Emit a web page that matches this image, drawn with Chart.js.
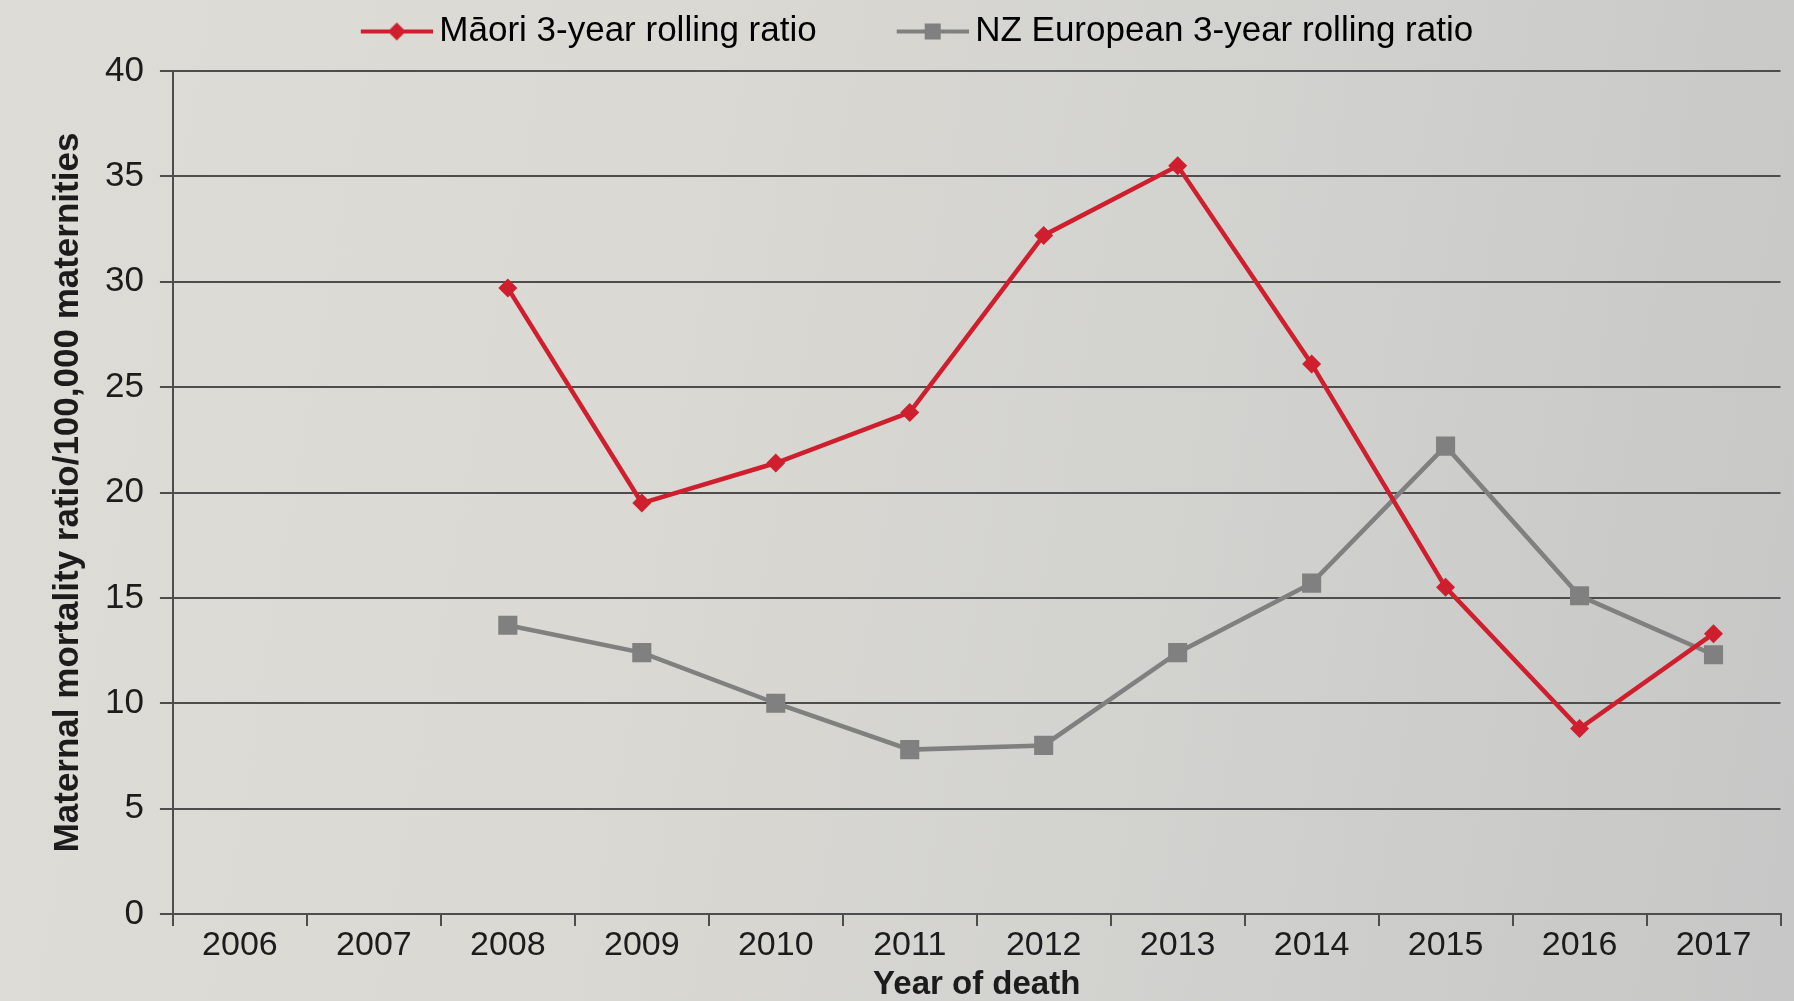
<!DOCTYPE html>
<html>
<head>
<meta charset="utf-8">
<script src="https://cdn.jsdelivr.net/npm/chart.js@4/dist/chart.umd.min.js"></script>
<style>
  html, body { margin: 0; padding: 0; }
  body {
    width: 1794px; height: 1001px; overflow: hidden;
    background: linear-gradient(100deg, #dddcd6 0%, #dad9d3 35%, #d2d2cf 65%, #c6c7c6 100%);
  }
  #wrap { position: relative; width: 1794px; height: 1001px; }
</style>
</head>
<body>
<div id="wrap"><canvas id="grafico"></canvas></div>
<script>
// === Dados ===
const anos = ["2006", "2007", "2008", "2009", "2010", "2011", "2012", "2013", "2014", "2015", "2016", "2017"];
const maori = [null, null, 29.7, 19.5, 21.4, 23.8, 32.2, 35.5, 26.1, 15.5, 8.8, 13.3];
const nzEuropean = [null, null, 13.7, 12.4, 10.0, 7.8, 8.0, 12.4, 15.7, 22.2, 15.1, 12.3];
const yTicks = [0, 5, 10, 15, 20, 25, 30, 35, 40];

const COR_MAORI = "#cf1f2e";
const COR_NZ = "#7f807f";
const COR_TEXTO = "#1c1c1c";
const COR_GRADE = "#4d4d4d";
const FONTE = "'Liberation Sans', Arial, sans-serif";

// === Legenda: largura do ícone e espaçamento ===
const LEG_PAD = 14;
const LEG_W = 141 - LEG_PAD;
const LEG_EXTRA = 12; // espaço extra abaixo da legenda

// Ícone da legenda: linha com marcador, encostada à direita do canvas
function iconeLegenda(cor, forma) {
  const c = document.createElement("canvas");
  c.width = LEG_W + 22;
  c.height = 24;
  const g = c.getContext("2d");
  const x0 = c.width - 72;
  const cx = c.width - 36;
  g.strokeStyle = cor;
  g.lineWidth = 4;
  g.beginPath();
  g.moveTo(x0, 12);
  g.lineTo(c.width, 12);
  g.stroke();
  g.fillStyle = cor;
  if (forma === "diamante") {
    g.beginPath();
    g.moveTo(cx, 3);
    g.lineTo(cx + 9, 12);
    g.lineTo(cx, 21);
    g.lineTo(cx - 9, 12);
    g.closePath();
    g.fill();
  } else {
    g.fillRect(cx - 8, 4, 16, 16);
  }
  return c;
}

const icones = [iconeLegenda(COR_MAORI, "diamante"), iconeLegenda(COR_NZ, "quadrado")];

// Aumenta a altura da caixa da legenda (afasta a área do gráfico)
const espacoLegenda = {
  id: "espacoLegenda",
  beforeUpdate(chart) {
    const lg = chart.legend;
    if (lg && !lg._ajustado) {
      const fitOriginal = lg.fit;
      lg.fit = function () {
        fitOriginal.call(this);
        this.height += LEG_EXTRA;
      };
      lg._ajustado = true;
    }
  },
};

const ctx = document.getElementById("grafico").getContext("2d");

new Chart(ctx, {
  type: "line",
  data: {
    labels: anos,
    datasets: [
      {
        label: "Māori 3-year rolling ratio",
        data: maori,
        borderColor: COR_MAORI,
        backgroundColor: COR_MAORI,
        borderWidth: 4.5,
        pointStyle: "rectRot",
        pointRadius: 9.5,
        pointBorderWidth: 0,
        tension: 0,
      },
      {
        label: "NZ European 3-year rolling ratio",
        data: nzEuropean,
        borderColor: COR_NZ,
        backgroundColor: COR_NZ,
        borderWidth: 4.5,
        pointStyle: "rect",
        pointRadius: 13.5,
        pointBorderWidth: 0,
        tension: 0,
      },
    ],
  },
  options: {
    responsive: true,
    maintainAspectRatio: false,
    animation: false,
    layout: { padding: { top: 0, left: -22, right: 4, bottom: 0 } },
    plugins: {
      tooltip: { enabled: false },
      legend: {
        position: "top",
        labels: {
          usePointStyle: true,
          pointStyleWidth: LEG_W,
          padding: LEG_PAD,
          color: COR_TEXTO,
          font: { family: FONTE, size: 35 },
          generateLabels: (chart) =>
            chart.data.datasets.map((ds, i) => ({
              text: ds.label,
              fillStyle: ds.borderColor,
              strokeStyle: ds.borderColor,
              pointStyle: icones[i],
              datasetIndex: i,
              hidden: false,
              lineWidth: 0,
            })),
        },
      },
    },
    scales: {
      x: {
        offset: true,
        grid: {
          offset: true,
          drawOnChartArea: false,
          drawTicks: true,
          tickLength: 12,
          color: COR_GRADE,
          lineWidth: 2,
        },
        border: { color: COR_GRADE, width: 2 },
        ticks: {
          color: COR_TEXTO,
          padding: 3,
          maxRotation: 0,
          font: { family: FONTE, size: 34, lineHeight: 1 },
        },
        title: {
          display: true,
          text: "Year of death",
          color: COR_TEXTO,
          padding: { top: 2, bottom: 0 },
          font: { family: FONTE, size: 33, weight: "bold", lineHeight: 1 },
        },
      },
      y: {
        min: 0,
        max: 40,
        afterBuildTicks: (axis) => {
          axis.ticks = yTicks.map((v) => ({ value: v }));
        },
        grid: {
          color: COR_GRADE,
          lineWidth: 2,
          tickLength: 13,
        },
        border: { color: COR_GRADE, width: 2 },
        ticks: {
          color: COR_TEXTO,
          padding: 16,
          font: { family: FONTE, size: 35 },
        },
        title: {
          display: true,
          text: "Maternal mortality ratio/100,000 maternities",
          color: COR_TEXTO,
          padding: { top: 69, bottom: 0 },
          font: { family: FONTE, size: 35, weight: "bold" },
        },
      },
    },
  },
  plugins: [espacoLegenda],
});
</script>
</body>
</html>
